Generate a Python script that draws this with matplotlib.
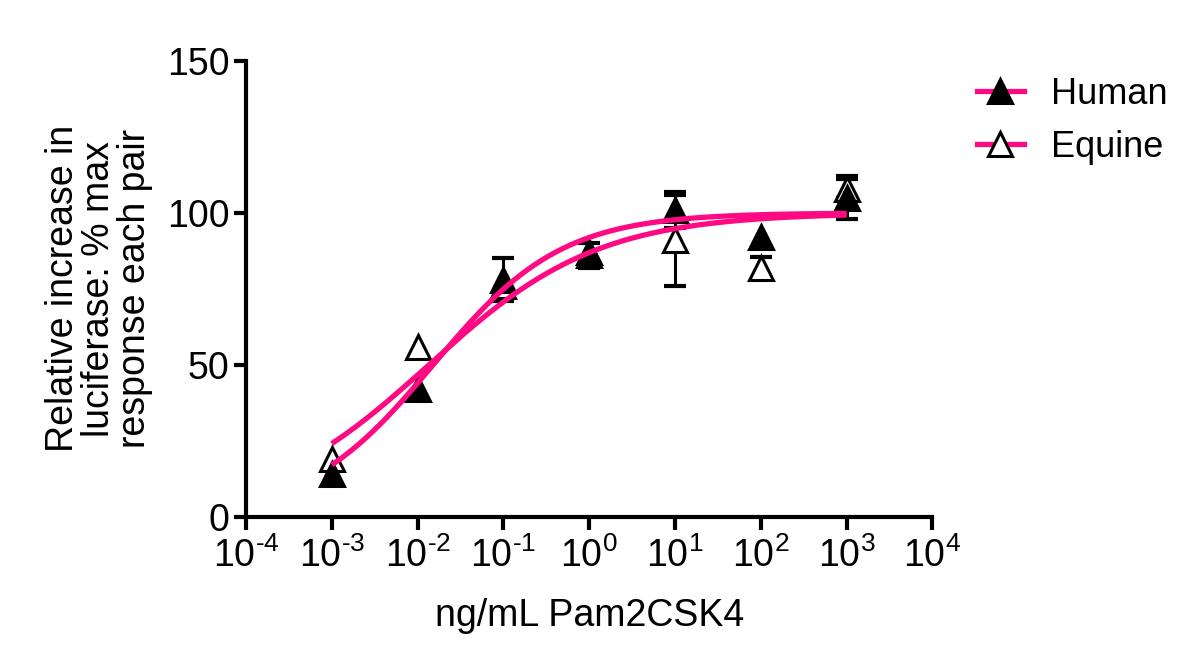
import matplotlib
matplotlib.use('Agg')
import matplotlib.pyplot as plt
import numpy as np
from matplotlib.lines import Line2D
import matplotlib.ticker as mtick

plt.rcParams['font.family'] = ['Liberation Sans', 'DejaVu Sans']
plt.rcParams['mathtext.fontset'] = 'custom'
plt.rcParams['mathtext.rm'] = 'Liberation Sans'
plt.rcParams['mathtext.default'] = 'regular'

# doses (ng/mL)
dose = [1e-3, 1e-2, 1e-1, 1e0, 1e1, 1e2, 1e3]

human_mean = [14, 42, 78, 86, 101, 92, 105]
human_sem = [0, 0, 7, 4, 6, 0, 7]
equine_mean = [19, 56, 76, 87, 91, 82, 108]
equine_sem = [0, 0, 0, 0, 15, 3.5, 3]

# fitted curves (bottom, top, logEC50, hill slope)
human_fit = (0, 100, -1.82, 0.58)
equine_fit = (0, 100, -1.87, 0.44)

x_exps = [-4, -3, -2, -1, 0, 1, 2, 3, 4]
y_ticks = [0, 50, 100, 150]

PINK = '#FF0A82'
FS = 27


def hill(logx, p):
    bottom, top, logec, h = p
    return bottom + (top - bottom) / (1 + 10 ** ((logec - logx) * h))


fig = plt.figure(figsize=(12, 6.68), dpi=100)
ax = fig.add_axes([0.205, 0.226, 0.572, 0.683])

ms = 17
# equine drawn first, human on top
for mean, sem, mfc, z in [(equine_mean, equine_sem, 'white', 3),
                          (human_mean, human_sem, 'black', 3.5)]:
    idx = [i for i, s in enumerate(sem) if s > 0]
    ax.errorbar([dose[i] for i in idx], [mean[i] for i in idx],
                yerr=[sem[i] for i in idx], fmt='none', ecolor='black',
                elinewidth=2.2, capsize=8, capthick=3, zorder=2)
    ax.plot(dose, mean, ls='none', marker='^', ms=ms, mfc=mfc, mec='black',
            mew=2.2, zorder=z)

lx = np.linspace(np.log10(dose[0]), np.log10(dose[-1]), 300)
for p in [human_fit, equine_fit]:
    ax.plot(10 ** lx, hill(lx, p), color=PINK, lw=3.8, zorder=4,
            solid_capstyle='butt')

ax.set_xscale('log')
ax.set_xlim(1e-4, 1e4)
ax.set_ylim(0, 150)
ax.set_xticks([10.0 ** e for e in x_exps])
ax.set_xticklabels(['$10^{%s}$' % str(e).replace('-', '\u2010') for e in x_exps])
ax.xaxis.set_minor_locator(mtick.NullLocator())
ax.set_yticks(y_ticks)

for s in ['top', 'right']:
    ax.spines[s].set_visible(False)
for s in ['left', 'bottom']:
    ax.spines[s].set_linewidth(3)
ax.tick_params(axis='both', width=3, length=9, labelsize=FS, pad=3)
ax.tick_params(axis='x', pad=6)

ax.set_xlabel('ng/mL Pam2CSK4', fontsize=FS, labelpad=16)
ax.set_ylabel('Relative increase in\nluciferase: % max\nresponse each pair',
              fontsize=FS, labelpad=10, linespacing=1.0)

handles = [
    Line2D([], [], color=PINK, lw=3.8, marker='^', ms=ms, mfc='black',
           mec='black', mew=2.2),
    Line2D([], [], color=PINK, lw=3.8, marker='^', ms=ms, mfc='white',
           mec='black', mew=2.2),
]
fig.legend(handles, ['Human', 'Equine'], loc='upper left',
           bbox_to_anchor=(0.787, 0.934), frameon=False, fontsize=26,
           handlelength=1.3, labelspacing=0.5, handletextpad=0.75)

fig.savefig('out.png', dpi=100)
